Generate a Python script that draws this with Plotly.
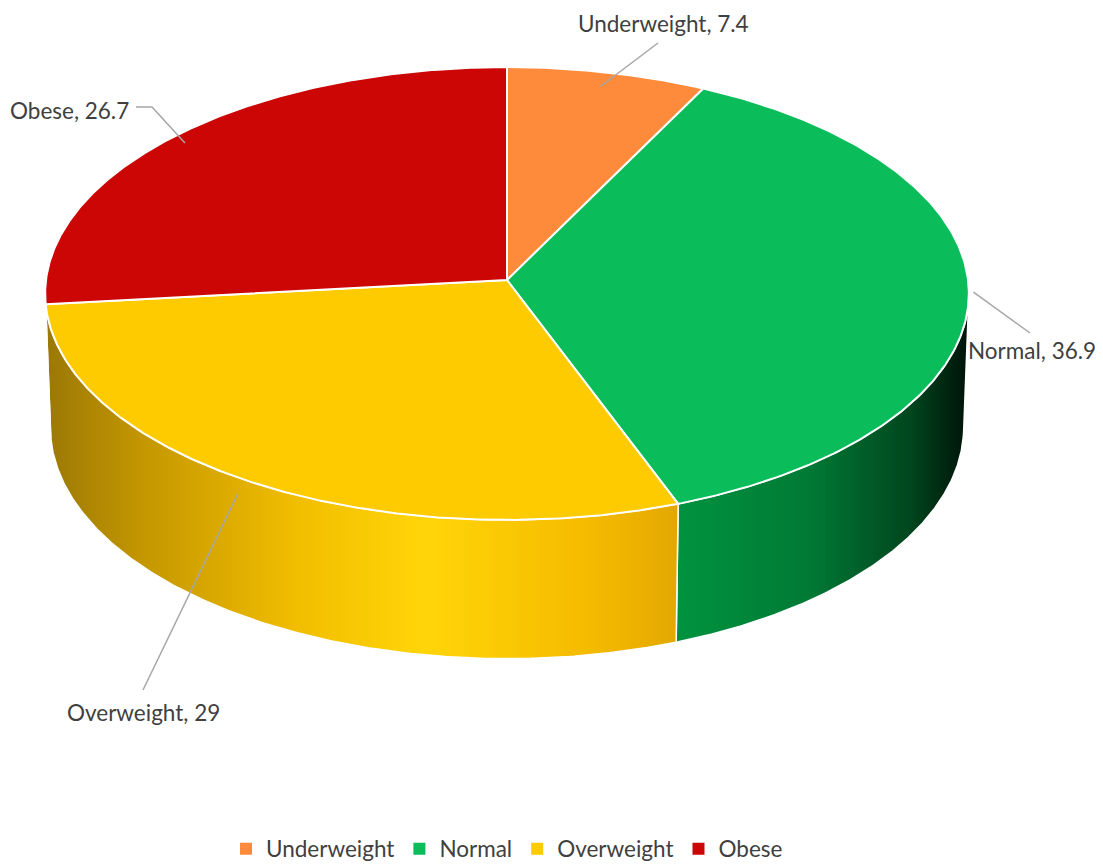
import numpy as np
import plotly.graph_objects as go

# ---- data ----
categories = ["Underweight", "Normal", "Overweight", "Obese"]
values = [7.4, 36.9, 29, 26.7]

# ---- styling ----
colors = ["#FD8B3B", "#0ABD5A", "#FECB00", "#CC0505"]
side_scales = [
    [[0, "#C0651E"], [1, "#E07A2E"]],
    [[0, "#00933F"], [0.45, "#007A35"], [0.8, "#00461E"], [1, "#001208"]],
    [[0, "#9A7806"], [0.15, "#C39600"], [0.4, "#F2BE00"], [0.6, "#FFD508"],
     [0.85, "#F6BC00"], [1, "#E3A800"]],
    [[0, "#7A0000"], [1, "#900000"]],
]
label_pos = [(663, 23), (1032, 350), (143, 712), (69, 110)]
leader_ends = [[(658, 43)], [(1030, 333)], [(143, 690)], [(152, 107), (136, 107)]]
# (position within slice, radial fraction, height) of each leader start
leader_anchor = [(0.5, 0.93, 0.0), (0.5, 1.01, 0.0), (0.52, 1.0, -0.04), (0.49, 0.96, 0.0)]

# perspective camera for the 3-D pie
CX, CY = 507, 280
PHI = np.radians(29.3)
S, C = np.sin(PHI), np.cos(PHI)
D, F, H = 14.63, 6745.0, 0.335
FONT = "Lato, Open Sans, sans-serif"
FS = 22.5


def proj(theta, f=1.0, z=0.0):
    th = np.radians(theta)
    u, v = f * np.sin(th), f * np.cos(th)
    cx = u
    cy = S * v + C * z
    cz = C * v + D - S * z
    return CX + F * cx / cz, CY - F * cy / cz


total = sum(values)
bounds = np.concatenate([[0], np.cumsum(values) / total * 360])
vis = np.degrees(np.arccos(-1.0 / (D * C)))  # silhouette angle

fig = go.Figure()

# side walls (visible front part only)
for i in range(len(values)):
    s, e = bounds[i], bounds[i + 1]
    lo, hi = max(s, vis), min(e, 360 - vis)
    if hi <= lo:
        continue
    th = np.linspace(lo, hi, 200)
    xt, yt = proj(th)
    xb, yb = proj(th, 1.0, -H)
    px = np.concatenate([xt, xb[::-1], [xt[0]]])
    py = np.concatenate([yt, yb[::-1], [yt[0]]])
    fig.add_trace(go.Scatter(
        x=px, y=py, mode="lines", fill="toself",
        fillgradient=dict(type="horizontal", colorscale=side_scales[i]),
        line=dict(color="white", width=1.5),
        showlegend=False, hoverinfo="skip"))

# top faces
for i in range(len(values)):
    s, e = bounds[i], bounds[i + 1]
    th = np.linspace(s, e, 300)
    xs, ys = proj(th)
    px = np.concatenate([[CX], xs, [CX]])
    py = np.concatenate([[CY], ys, [CY]])
    fig.add_trace(go.Scatter(
        x=px, y=py, mode="lines", fill="toself", fillcolor=colors[i],
        line=dict(color="white", width=2),
        showlegend=False, hoverinfo="skip"))

# leader lines and data labels
for i in range(len(values)):
    pos, f, z = leader_anchor[i]
    ang = bounds[i] + pos * (bounds[i + 1] - bounds[i])
    sx, sy = proj(ang, f, z)
    pts = [(sx, sy)] + leader_ends[i]
    fig.add_trace(go.Scatter(
        x=[p[0] for p in pts], y=[p[1] for p in pts], mode="lines",
        line=dict(color="#A6A6A6", width=1.5),
        showlegend=False, hoverinfo="skip"))
    fig.add_annotation(
        x=label_pos[i][0], y=label_pos[i][1], xref="x", yref="y",
        text=f"{categories[i]}, {values[i]:g}", showarrow=False, borderpad=0,
        font=dict(family=FONT, size=FS, color="#404040"))

# legend entries
for c, name in zip(colors, categories):
    fig.add_trace(go.Scatter(
        x=[None], y=[None], mode="markers", name=name,
        marker=dict(symbol="square", size=10, color=c)))

fig.update_layout(
    width=1103, height=867,
    margin=dict(l=0, r=0, t=0, b=0),
    paper_bgcolor="white", plot_bgcolor="white",
    xaxis=dict(range=[8, 1111], visible=False, fixedrange=True),
    yaxis=dict(range=[875, 8], visible=False, fixedrange=True),
    legend=dict(orientation="h", x=499 / 1103, xanchor="center", y=1 - 841 / 867,
                yanchor="middle", font=dict(family=FONT, size=FS, color="#404040"),
                itemsizing="constant", bgcolor="rgba(0,0,0,0)"),
)

fig.write_html("out.html")
